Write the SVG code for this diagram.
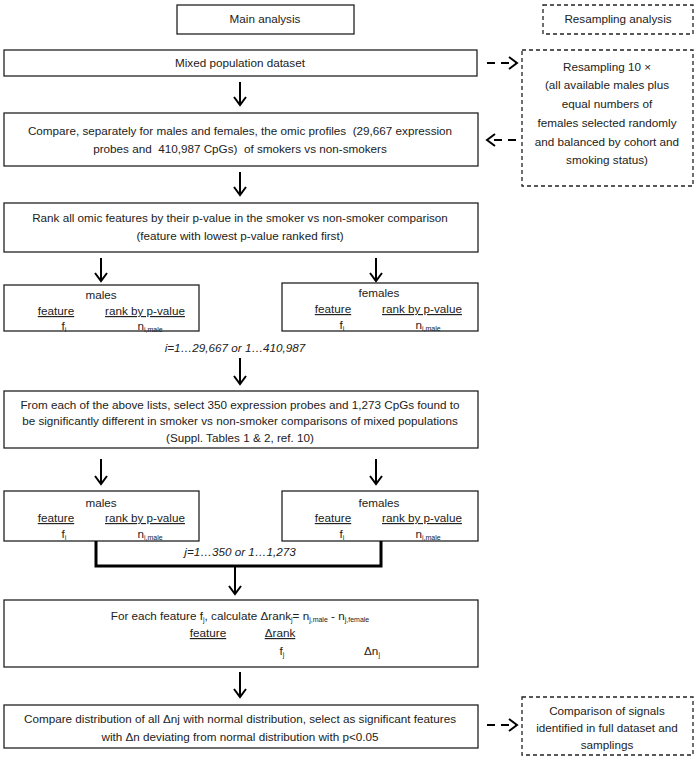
<svg xmlns="http://www.w3.org/2000/svg" width="697" height="762" viewBox="0 0 697 762">
<defs>
<style>
text{font-family:"Liberation Sans",Arial,sans-serif;font-size:11.7px;fill:#222;text-anchor:middle}
.box{fill:#fff;stroke:#222;stroke-width:1.3}
.dbox{fill:#fff;stroke:#222;stroke-width:1.3;stroke-dasharray:4 3}
.arr{stroke:#000;stroke-width:2;fill:none;marker-end:url(#ah)}
.darr{stroke:#000;stroke-width:2;fill:none;stroke-dasharray:8 6;marker-end:url(#ah)}
.ln{stroke:#000;stroke-width:3;fill:none}
.u{text-decoration:underline}
.it{font-style:italic}
.s{font-size:7px}
</style>
<marker id="ah" markerWidth="14" markerHeight="14" refX="10" refY="7" orient="auto" markerUnits="userSpaceOnUse">
<path d="M2,1 L10,7 L2,13" fill="none" stroke="#000" stroke-width="2"/>
</marker>
</defs>
<g id="main-header"><rect class="box" x="177" y="5" width="177" height="29"/><text x="265" y="23">Main analysis</text></g>
<g id="resampling-header"><rect class="dbox" x="543" y="5" width="150" height="29"/><text x="618" y="23">Resampling analysis</text></g>
<g id="mixed"><rect class="box" x="4" y="50" width="473" height="26"/><text x="240" y="67">Mixed population dataset</text></g>
<g id="resampling"><rect class="dbox" x="522" y="50" width="171" height="136"/>
<text x="607" y="71">Resampling 10 ×</text>
<text x="607" y="89">(all available males plus</text>
<text x="607" y="108">equal numbers of</text>
<text x="607" y="127">females selected randomly</text>
<text x="607" y="146">and balanced by cohort and</text>
<text x="607" y="164">smoking status)</text></g>
<g id="compare"><rect class="box" x="4" y="113" width="474" height="53"/>
<text x="240" y="135" xml:space="preserve">Compare, separately for males and females, the omic profiles  (29,667 expression</text>
<text x="240" y="153" xml:space="preserve">probes and  410,987 CpGs)  of smokers vs non-smokers</text></g>
<g id="rank"><rect class="box" x="4" y="203" width="474" height="49"/>
<text x="240" y="222">Rank all omic features by their p-value in the smoker vs non-smoker comparison</text>
<text x="240" y="240">(feature with lowest p-value ranked first)</text></g>
<g id="males1"><rect class="box" x="4" y="285" width="195" height="46"/>
<text x="101" y="299">males</text>
<text x="56" y="315" class="u">feature</text><text x="145" y="315" class="u">rank by p-value</text>
<text x="64" y="330">f<tspan class="s" dy="2">i</tspan></text>
<text x="150" y="330">n<tspan class="s" dy="2">i,male</tspan></text></g>
<g id="females1"><rect class="box" x="282" y="283" width="196" height="48"/>
<text x="379" y="297">females</text>
<text x="333" y="313" class="u">feature</text><text x="422" y="313" class="u">rank by p-value</text>
<text x="342" y="329">f<tspan class="s" dy="2">i</tspan></text>
<text x="428" y="329">n<tspan class="s" dy="2">i,male</tspan></text></g>
<text class="it" x="235" y="352">i=1…29,667 or 1…410,987</text>
<g id="select"><rect class="box" x="4" y="391" width="474" height="57"/>
<text x="240" y="409">From each of the above lists, select 350 expression probes and 1,273 CpGs found to</text>
<text x="240" y="425">be significantly different in smoker vs non-smoker comparisons of mixed populations</text>
<text x="240" y="442">(Suppl. Tables 1 &amp; 2, ref. 10)</text></g>
<g id="males2"><rect class="box" x="4" y="491" width="195" height="50"/>
<text x="101" y="507">males</text>
<text x="56" y="522" class="u">feature</text><text x="145" y="522" class="u">rank by p-value</text>
<text x="64" y="538">f<tspan class="s" dy="2">i</tspan></text>
<text x="150" y="538">n<tspan class="s" dy="2">i,male</tspan></text></g>
<g id="females2"><rect class="box" x="282" y="491" width="196" height="50"/>
<text x="379" y="507">females</text>
<text x="333" y="522" class="u">feature</text><text x="422" y="522" class="u">rank by p-value</text>
<text x="342" y="538">f<tspan class="s" dy="2">i</tspan></text>
<text x="428" y="538">n<tspan class="s" dy="2">i,male</tspan></text></g>
<text class="it" x="240" y="556">j=1…350 or 1…1,273</text>
<g id="delta"><rect class="box" x="4" y="600" width="474" height="67"/>
<text x="240" y="620">For each feature f<tspan class="s" dy="2">j</tspan><tspan dy="-2">, calculate Δrank</tspan><tspan class="s" dy="2">j</tspan><tspan dy="-2">= n</tspan><tspan class="s" dy="2">j,male</tspan><tspan dy="-2"> - n</tspan><tspan class="s" dy="2">j,female</tspan></text>
<text x="208" y="637" class="u">feature</text><text x="280" y="637" class="u">Δrank</text>
<text x="282" y="655">f<tspan class="s" dy="2">j</tspan></text>
<text x="372" y="655">Δn<tspan class="s" dy="2">j</tspan></text></g>
<g id="final"><rect class="box" x="4" y="705" width="474" height="43"/>
<text x="240" y="723">Compare distribution of all Δnj with normal distribution, select as significant features</text>
<text x="240" y="741">with Δn deviating from normal distribution with p&lt;0.05</text></g>
<g id="comparison"><rect class="dbox" x="522" y="697" width="171" height="58"/>
<text x="607" y="715">Comparison of signals</text>
<text x="607" y="732">identified in full dataset and</text>
<text x="607" y="749">samplings</text></g>
<g id="connectors">
<path class="arr" d="M240,82 V105"/>
<path class="arr" d="M240,172 V195"/>
<path class="arr" d="M101,258 V281"/>
<path class="arr" d="M376,258 V281"/>
<path class="arr" d="M240,358 V384"/>
<path class="arr" d="M101,459 V484"/>
<path class="arr" d="M376,459 V484"/>
<path class="ln" d="M96,541 V566 H381 V541"/>
<path class="arr" d="M235,566 V594"/>
<path class="arr" d="M240,672 V697"/>
<path class="darr" d="M487,63 H517"/>
<path class="darr" d="M516,140 H487"/>
<path class="darr" d="M487,725 H517"/>
</g>
</svg>
